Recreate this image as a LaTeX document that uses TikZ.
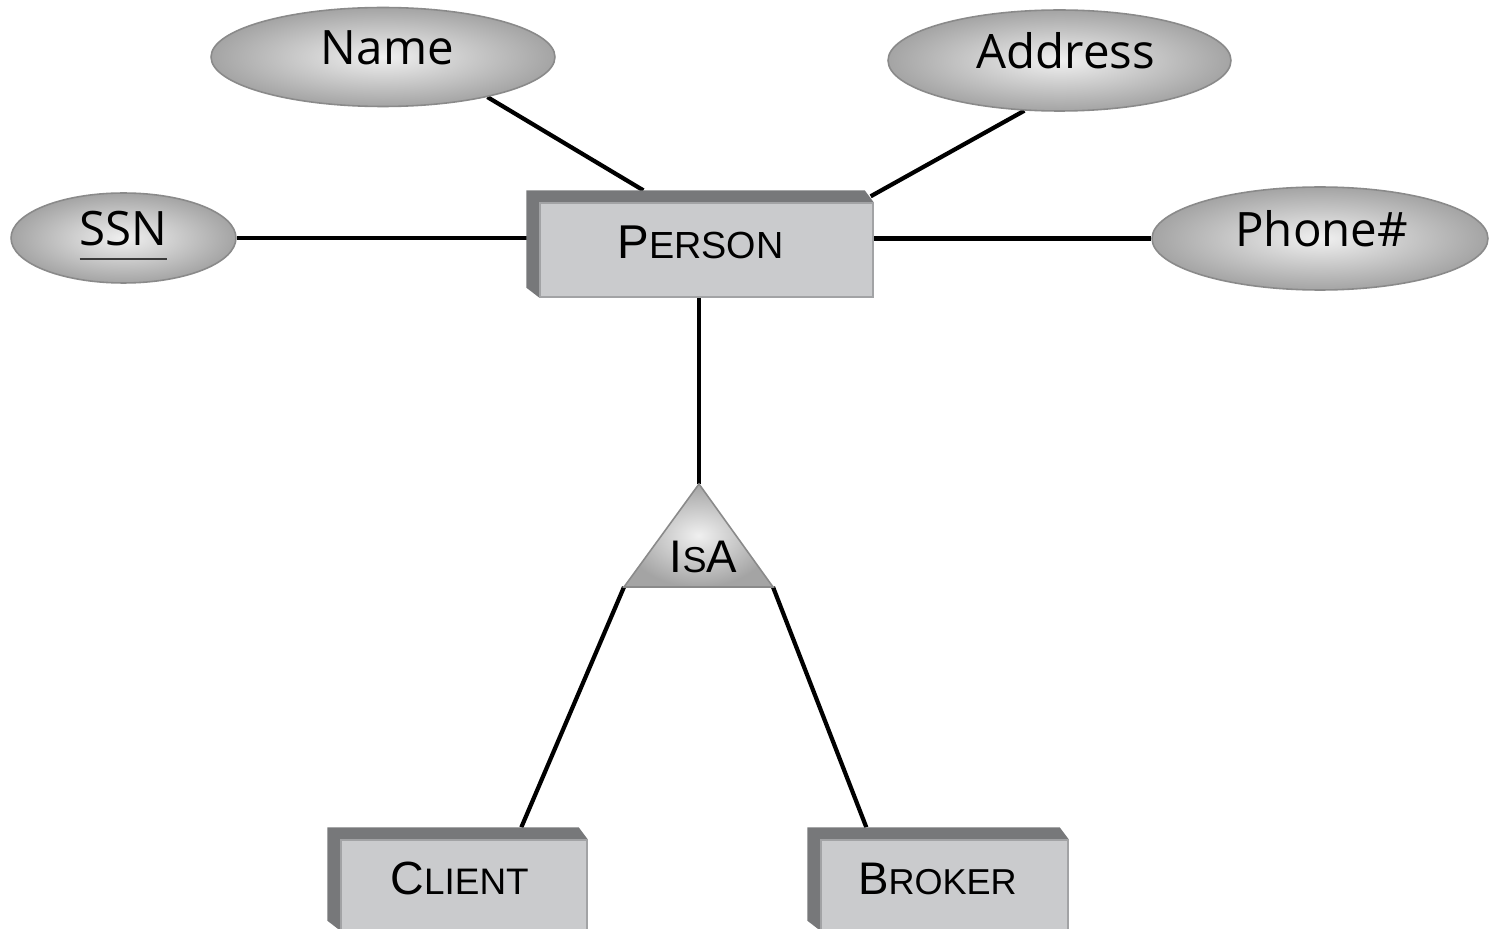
\documentclass[tikz,border=0pt]{standalone}
\usepackage{fontspec}
\newfontfamily\attrfont{Open Sans}
\newfontfamily\entfont{Liberation Sans}
\usetikzlibrary{calc,shapes.geometric}
\pgfdeclarelayer{bg}
\pgfdeclarelayer{lines}
\pgfdeclarelayer{bevels}
\pgfsetlayers{bg,lines,bevels,main}
\definecolor{ellLight}{HTML}{F0F0F0}
\definecolor{ellDark}{HTML}{A4A4A4}
\definecolor{ellEdge}{HTML}{8A8A8A}
\definecolor{faceFill}{HTML}{CACBCD}
\definecolor{faceEdge}{HTML}{A2A3A5}
\definecolor{bevelFill}{HTML}{77787A}
\definecolor{ulGray}{HTML}{3A3A3A}
\newcommand\ulssn[1]{\setbox0=\hbox{#1}\rlap{\color{ulGray}\rule[-8pt]{\wd0}{1.2pt}}\box0}
\begin{document}
\begin{tikzpicture}[x=0.02cm,y=-0.02cm,
  attr/.style={ellipse, draw=ellEdge, line width=0.9pt, inner color=ellLight, outer color=ellDark,
    inner sep=0pt, font=\attrfont\fontsize{27}{30}\selectfont, text height=19pt, text depth=10pt},
  entity/.style={rectangle, draw=faceEdge, line width=0.8pt, fill=faceFill, inner sep=0pt, font=\entfont},
  conn/.style={line width=2.4pt, black},
  bevel/.style={fill=bevelFill}]
\useasboundingbox (0,0) rectangle (1489,929);
\begin{pgfonlayer}{bg}
\fill[white] (0,0) rectangle (1489,929);
\end{pgfonlayer}

% attributes
\node[attr, minimum width=6.88cm, minimum height=1.98cm] (name) at (383,57) {Name\kern-5pt};
\node[attr, minimum width=6.86cm, minimum height=2.02cm] (address) at (1059.5,60.5) {\kern7pt Address};
\node[attr, minimum width=4.5cm, minimum height=1.8cm] (ssn) at (123.5,238) {\ulssn{SSN}};
\node[attr, minimum width=6.72cm, minimum height=2.06cm] (phone) at (1320,238.5) {\kern2pt Phone\#};

% entities
\node[entity, minimum width=6.66cm, minimum height=1.88cm, text height=19.5pt, text depth=9.3pt] (person) at (706.5,250)
  {\fontsize{27}{30}\selectfont P\fontsize{21.5}{24}\selectfont ERSON\kern7pt};
\node[entity, minimum width=4.92cm, minimum height=1.8cm, text height=18.6pt, text depth=7.3pt] (client) at (464,885)
  {\fontsize{26.5}{30}\selectfont C\fontsize{21}{24}\selectfont LIENT\kern5pt};
\node[entity, minimum width=4.94cm, minimum height=1.8cm, text height=18.6pt, text depth=7.3pt] (broker) at (944.5,885)
  {\fontsize{26}{30}\selectfont B\fontsize{20.5}{24}\selectfont ROKER\kern8pt};

\begin{pgfonlayer}{bevels}
\foreach \n in {person,client,broker}
  \fill[bevel] ($(\n.north west)+(-13,-12)$) -- ($(\n.north east)+(-9,-12)$) -- (\n.north east)
    -- (\n.south east) -- (\n.south west) -- ($(\n.south west)+(-13,-10)$) -- cycle;
\end{pgfonlayer}

% IsA triangle
\coordinate (isatop) at (699,484);
\coordinate (isaleft) at (624,587);
\coordinate (isaright) at (773,587);
\shadedraw[draw=ellEdge, line width=0.9pt, inner color=ellLight, outer color=ellDark]
  (isatop) -- (isaright) -- (isaleft) -- cycle;
\node[font=\entfont, anchor=base, inner sep=0pt] (isa) at (703.5,572)
  {\fontsize{26}{30}\selectfont I\fontsize{20.5}{24}\selectfont S\fontsize{26}{30}\selectfont A};

% connectors
\begin{pgfonlayer}{lines}
\draw[conn] (name.-21) -- ($(person.north west)+(104,-12)$);
\draw[conn] (address.-125) -- ($(person.north east)+(-3,-6)$);
\draw[conn] (ssn.east) -- (ssn.east -| person.west);
\draw[conn] (person.east |- phone.west) -- (phone.west);
\draw[conn] (person.south -| isatop) -- (isatop);
\draw[conn] (isaleft) -- ($(client.north west)+(181,-12)$);
\draw[conn] (isaright) -- ($(broker.north west)+(46,-12)$);
\end{pgfonlayer}
\end{tikzpicture}
\end{document}
